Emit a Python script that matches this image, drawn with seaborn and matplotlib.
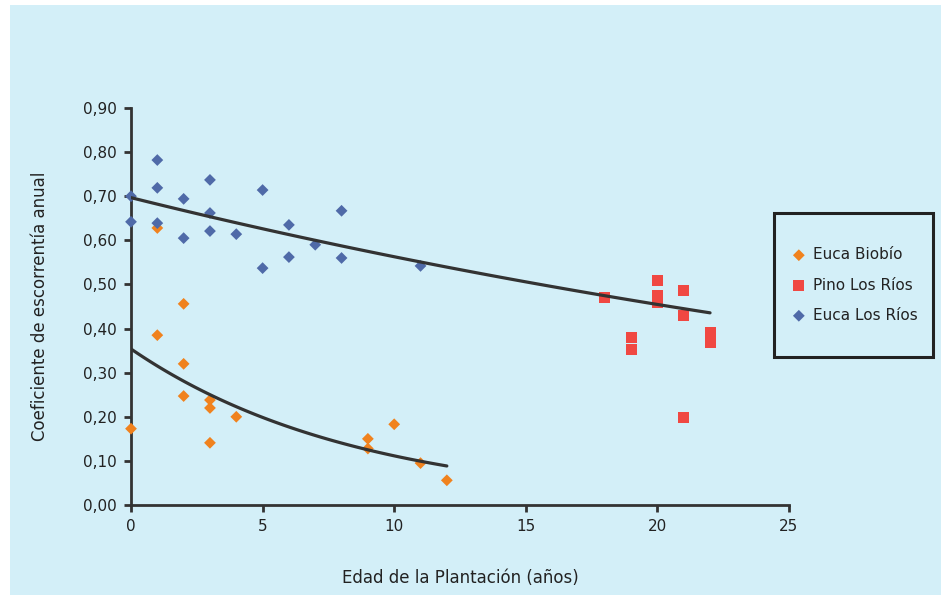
import numpy as np
import pandas as pd
import matplotlib
matplotlib.use('Agg')
import matplotlib.pyplot as plt
from matplotlib.patches import Rectangle
import seaborn as sns

# Euca Biobío
biobio_edad = [0, 1, 1, 2, 2, 2, 3, 3, 3, 4, 9, 9, 10, 11, 12]
biobio_coef = [0.173, 0.628, 0.385, 0.456, 0.320, 0.247, 0.238, 0.220, 0.141, 0.200,
               0.150, 0.128, 0.183, 0.095, 0.056]

# Pino Los Ríos
pino_edad = [18, 19, 19, 20, 20, 20, 21, 21, 21, 22, 22]
pino_coef = [0.471, 0.380, 0.353, 0.509, 0.476, 0.460, 0.487, 0.430, 0.199, 0.392, 0.369]

# Euca Los Ríos
euca_lr_edad = [0, 0, 1, 1, 1, 2, 2, 3, 3, 3, 4, 5, 5, 6, 6, 7, 8, 8, 11]
euca_lr_coef = [0.700, 0.642, 0.782, 0.719, 0.639, 0.694, 0.605, 0.737, 0.662, 0.621,
                0.614, 0.714, 0.537, 0.635, 0.562, 0.590, 0.667, 0.560, 0.542]

xticks = [0, 5, 10, 15, 20, 25]
yticks = [0.0, 0.1, 0.2, 0.3, 0.4, 0.5, 0.6, 0.7, 0.8, 0.9]

df = pd.concat([
    pd.DataFrame({'edad': biobio_edad, 'coef': biobio_coef, 'serie': 'Euca Biobío'}),
    pd.DataFrame({'edad': pino_edad, 'coef': pino_coef, 'serie': 'Pino Los Ríos'}),
    pd.DataFrame({'edad': euca_lr_edad, 'coef': euca_lr_coef, 'serie': 'Euca Los Ríos'}),
], ignore_index=True)

bg = '#D3EFF8'
dark = '#333333'
sns.set_style('ticks')
plt.rcParams['font.family'] = ['DejaVu Sans']

fig = plt.figure(figsize=(9.41, 5.95), dpi=100, facecolor='white')
fig.patches.append(Rectangle((10 / 941, 0), 1, 590 / 595, transform=fig.transFigure,
                             facecolor=bg, edgecolor='none', zorder=-10))
ax = fig.add_axes([131 / 941, 1 - 505 / 595, 658 / 941, 397 / 595])
ax.set_facecolor(bg)

styles = {'Euca Biobío': ('#F0821E', 'D', 36),
          'Pino Los Ríos': ('#F04842', 's', 62),
          'Euca Los Ríos': ('#4F6AA8', 'D', 36)}
for name, (col, mk, sz) in styles.items():
    sub = df[df['serie'] == name]
    sns.scatterplot(data=sub, x='edad', y='coef', ax=ax, color=col, marker=mk, s=sz,
                    edgecolor='none', label=name, zorder=3, clip_on=False)


def exp_trend(x, y, x0, x1):
    # exponential trendline (least squares on log y), drawn over [x0, x1]
    b, ln_a = np.polyfit(np.asarray(x, float), np.log(np.asarray(y, float)), 1)
    xs = np.linspace(x0, x1, 100)
    return xs, np.exp(ln_a) * np.exp(b * xs)


xs, ys = exp_trend(biobio_edad, biobio_coef, 0, 12)
ax.plot(xs, ys, color=dark, lw=2.3, zorder=4)
xs, ys = exp_trend(euca_lr_edad, euca_lr_coef, 0, 22)
ax.plot(xs, ys, color=dark, lw=2.3, zorder=4)

ax.set_xlim(0, 25)
ax.set_ylim(0, 0.9)
ax.set_xticks(xticks)
ax.set_yticks(yticks)
ax.set_yticklabels([f'{v:.2f}'.replace('.', ',') for v in yticks])
ax.tick_params(axis='both', direction='out', length=5, width=2, color=dark,
               labelsize=11, labelcolor='#222222', pad=5)
for side in ['top', 'right']:
    ax.spines[side].set_visible(False)
for side in ['left', 'bottom']:
    ax.spines[side].set_color(dark)
    ax.spines[side].set_linewidth(2)

ax.set_xlabel('Edad de la Plantación (años)', fontsize=12, color='#222222', labelpad=25)
ax.set_ylabel('Coeficiente de escorrentía anual', fontsize=12, color='#222222', labelpad=25)

# legend box
lx, ly, lw_, lh = 774 / 941, 1 - 357 / 595, 159 / 941, 144 / 595
fig.patches.append(Rectangle((lx, ly), lw_, lh, transform=fig.transFigure,
                             facecolor='none', edgecolor='#222222', lw=2.2, zorder=5))
handles, labels = ax.get_legend_handles_labels()
fig.legend(handles, labels, loc='center', bbox_to_anchor=(lx + lw_ / 2, ly + lh / 2),
           frameon=False, fontsize=11, labelspacing=1.0, handletextpad=0.3,
           handlelength=1.2, labelcolor='#222222')
ax.get_legend().remove()

fig.savefig('out.png', dpi=100, facecolor=fig.get_facecolor())
